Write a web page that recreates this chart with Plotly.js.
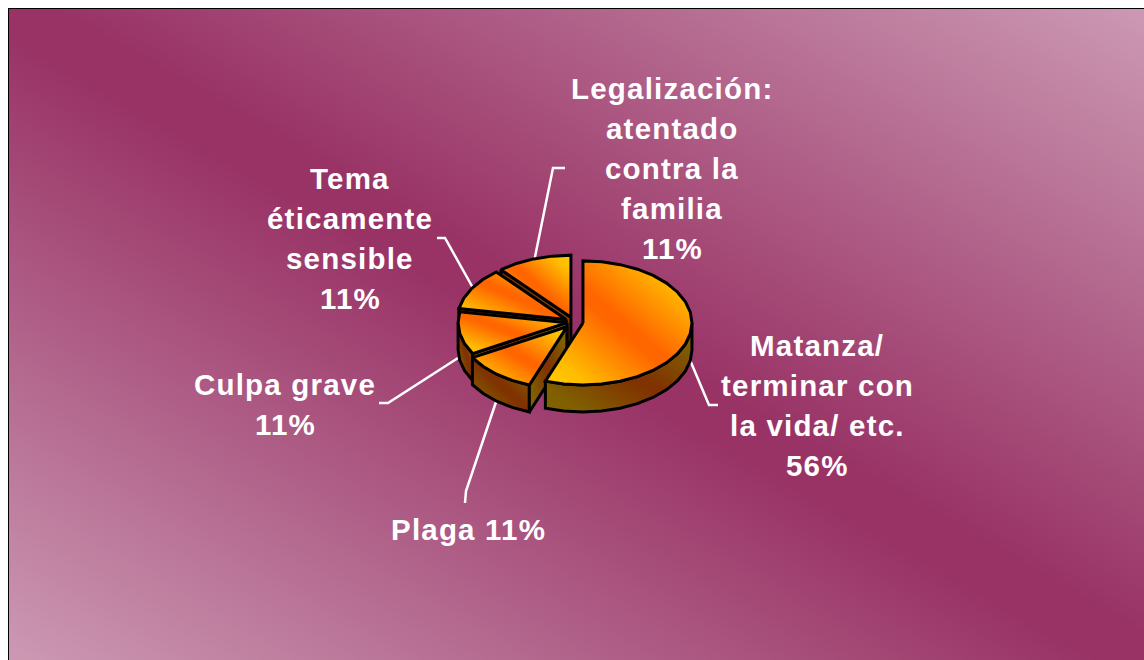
<!DOCTYPE html>
<html>
<head>
<meta charset="utf-8">
<script src="https://cdn.plot.ly/plotly-3.0.1.min.js"></script>
<style>
html,body{margin:0;padding:0;background:#fff;width:1144px;height:660px;overflow:hidden}
#frame{position:absolute;left:8px;top:8px;width:1136px;height:652px;box-sizing:border-box;
  border-left:1.5px solid #000;border-top:1.5px solid #000;
  background:linear-gradient(to top right,#CC99B3 0%,#993366 48%,#993366 52%,#CC99B3 100%)}
#chart{position:absolute;left:0;top:0;width:1144px;height:660px}
.annotation-text{letter-spacing:1.2px}
</style>
</head>
<body>
<div id="frame"></div>
<div id="chart"></div>
<script>
// Shares of each category, clockwise from 12 o'clock
const categories = ["Matanza/ terminar con la vida/ etc.","Plaga","Culpa grave","Tema éticamente sensible","Legalización: atentado contra la familia"];
const shares = [55.6, 11.1, 11.1, 11.1, 11.1];
const labelLines = [
  ["Matanza/","terminar con","la vida/ etc.","56%"],
  ["Plaga 11%"],
  ["Culpa grave","11%"],
  ["Tema","éticamente","sensible","11%"],
  ["Legalización:","atentado","contra la","familia","11%"]
];
const explode = [9.1, 11, 7, 9, 9];

// Drawing styles and geometry (not data)
const cx = 574, cy = 322, rx = 109, ry = 62, depth = 27, squash = ry / rx, stepDeg = 10;
const topScale  = [[0,'#FFCC00'],[0.14,'#FFBE00'],[0.47,'#FF6600'],[0.53,'#FF6600'],[0.86,'#FFBE00'],[1,'#FFCC00']];
const sideScale = [[0,'#806600'],[0.14,'#805F00'],[0.47,'#803300'],[0.53,'#803300'],[0.86,'#805F00'],[1,'#806600']];
const labelPos = [[817,345],[468,529],[285,384],[350,178],[672,88]];
const lineH = 40;
const leaders = [
  [[690,360],[709,405],[718,405]],
  [[497,399],[466,491],[465,503]],
  [[458,358],[388,403],[379,403]],
  [[473,288],[445,238],[437,238]],
  [[534,262],[553,168],[565,168]]
];

const rad = d => d * Math.PI / 180;
const pt = (c, a, dy) => [c[0] + rx * Math.sin(rad(a)), c[1] - ry * Math.cos(rad(a)) + (dy || 0)];
function arc(c, a0, a1, dy) {
  const out = [], n = Math.max(1, Math.round(Math.abs(a1 - a0) / stepDeg));
  for (let i = 0; i <= n; i++) out.push(pt(c, a0 + (a1 - a0) * i / n, dy));
  return out;
}
function poly(points, scale) {
  const closed = points.concat([points[0]]);
  return {
    type: 'scatter', mode: 'lines', fill: 'toself',
    x: closed.map(p => p[0]), y: closed.map(p => p[1]),
    line: {color: '#000', width: 3, simplify: false},
    fillgradient: {type: 'horizontal', colorscale: scale},
    hoverinfo: 'skip', showlegend: false
  };
}

// Angular extent of every slice from the shares
const total = shares.reduce((s, v) => s + v, 0);
let acc = 0;
const slices = shares.map((v, i) => {
  const a0 = acc * 360 / total; acc += v; const a1 = acc * 360 / total;
  const mid = rad((a0 + a1) / 2);
  const c = [cx + explode[i] * Math.sin(mid), cy - explode[i] * squash * Math.cos(mid)];
  return {a0, a1, c};
});

// Painter's order: back slices first, big front slice last
const traces = [];
[4, 3, 2, 1, 0].forEach(i => {
  const {a0, a1, c} = slices[i];
  // outer wall: only the part of the rim that faces the viewer
  const w0 = Math.max(a0, 90), w1 = Math.min(a1, 270);
  if (w1 > w0) traces.push(poly(arc(c, w0, w1, 0).concat(arc(c, w1, w0, depth)), sideScale));
  // cut faces that look towards the viewer
  [a0, a1].forEach((a, k) => {
    const e = pt(c, a), edgeX = e[0] - c[0];
    const facesViewer = (k === 0 ? -edgeX : edgeX) > 0.5;
    if (facesViewer) traces.push(poly([c, e, [e[0], e[1] + depth], [c[0], c[1] + depth]], sideScale));
  });
  traces.push(poly([c].concat(arc(c, a0, a1, 0)), topScale));
});

const annotations = [];
labelLines.forEach((lines, i) => lines.forEach((t, j) => annotations.push({
  x: labelPos[i][0], y: labelPos[i][1] + j * lineH, xref: 'x', yref: 'y',
  text: t, showarrow: false, xanchor: 'center', yanchor: 'middle',
  font: {family: '"Liberation Sans", Arial, sans-serif', size: 29.5, color: '#fff', weight: 700}
})));

const shapes = leaders.map(l => ({
  type: 'path', xref: 'x', yref: 'y', layer: 'below',
  path: 'M' + l.map(p => p.join(',')).join('L'),
  line: {color: '#fff', width: 2.5}
}));

const layout = {
  width: 1144, height: 660, margin: {l: 0, r: 0, t: 0, b: 0},
  paper_bgcolor: 'rgba(0,0,0,0)', plot_bgcolor: 'rgba(0,0,0,0)', showlegend: false,
  xaxis: {range: [0, 1144], visible: false, fixedrange: true},
  yaxis: {range: [660, 0], visible: false, fixedrange: true},
  annotations, shapes
};

Plotly.newPlot('chart', traces, layout, {displayModeBar: false, staticPlot: true}).then(gd => {
  // Corner-to-corner gradient across each shape's box
  gd.querySelectorAll('linearGradient').forEach(g => {
    g.setAttribute('gradientUnits', 'objectBoundingBox');
    g.setAttribute('x1', '0'); g.setAttribute('y1', '1');
    g.setAttribute('x2', '1'); g.setAttribute('y2', '0');
  });
});
</script>
</body>
</html>
